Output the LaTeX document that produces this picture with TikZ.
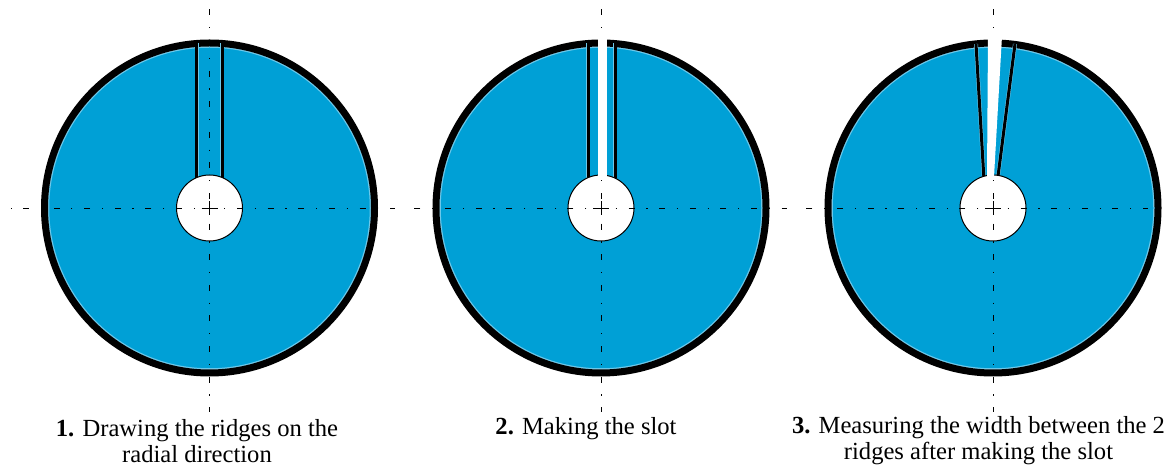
\documentclass[tikz,border=0pt]{standalone}
\usepackage{fontspec}
\setmainfont{Liberation Serif}
\usetikzlibrary{calc}
\definecolor{diskblue}{HTML}{00A0D6}
\definecolor{diskglow}{HTML}{6CC8EA}
\tikzset{
  disk/.style={fill=diskblue,draw=diskglow,line width=1.5pt},
  ring/.style={draw=black,line width=7pt},
  ridgeglow/.style={draw=diskglow,line width=4pt},
  ridge/.style={draw=black,line width=3pt},
  bore/.style={fill=white,draw=black,line width=1pt},
  axis/.style={draw=black,line width=.9pt,dash pattern=on 6pt off 11.7pt on 1.2pt off 11.7pt},
  caption/.style={font=\fontsize{24.6}{26}\selectfont,align=center}
}
\begin{document}
\begin{tikzpicture}[x=1pt,y=1pt]
\useasboundingbox (0,0) rectangle (1170,468);
% disks
\foreach \cx/\name in {209.5/one,601/two,993/three}{
\coordinate (\name) at (\cx,260);
\filldraw[disk] (\name) circle (161);
\draw[ring] (\name) circle (165);
}
% ridges
\foreach \sty in {ridgeglow,ridge}{
\draw[\sty] (196.5,425) -- (196.5,288) (222,425) -- (222,288);
\draw[\sty] (588,425) -- (588,288) (615,425) -- (615,288);
\draw[\sty] (976,424) -- (984,288) (1015,424) -- (997.5,288);
}
% bores
\foreach \name in {one,two,three}{
\filldraw[bore] (\name) circle (33);
\draw[black,line width=.8pt] ($(\name)+(-8,0)$) -- ($(\name)+(8,0)$) ($(\name)+(0,-7)$) -- ($(\name)+(0,7)$);
}
% axes
\foreach \cx/\xa/\xb in {209.5/11/395,601/403/787,993/795/1148}{
\draw[axis] (\cx,458.5) -- (\cx,56);
\draw[axis,dash phase=3pt] (\cx,260) -- (\xb,260);
\draw[axis,dash phase=3pt] (\cx,260) -- (\xa,260);
}
% slots
\fill[white] (598,432) rectangle (607,291);
\fill[white] (988,432) -- (1002,432) -- (994,291) -- (987,291) -- cycle;
\node[caption] (capone) at (197,27) {\textbf{1.} Drawing the ridges on the\\radial direction};
\node[caption] (captwo) at (586,39) {\textbf{2.} Making the slot};
\node[caption] (capthree) at (978.5,27) {\textbf{3.} Measuring the width between the 2\\ridges after making the slot};
\end{tikzpicture}
\end{document}
